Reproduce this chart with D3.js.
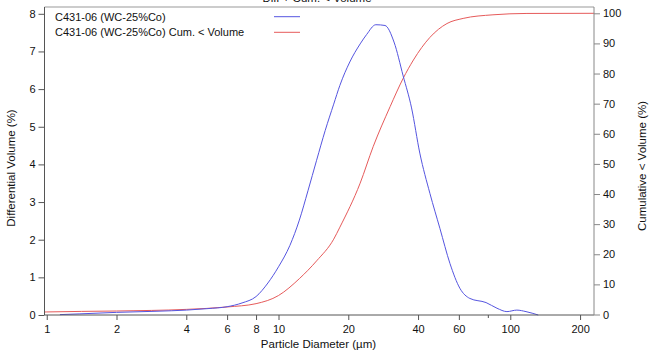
<!DOCTYPE html>
<html><head><meta charset="utf-8">
<script src="https://cdn.jsdelivr.net/npm/d3@7"></script>
<style>
body{margin:0;background:#fff;}
svg{display:block;font-family:"Liberation Sans",Arial,sans-serif;}
</style></head>
<body><svg id="c" width="649" height="358"></svg>
<script>
// Differential volume (%) vs particle diameter (µm)
const diffDiam = [1.14,1.39,2,2.99,4,4.96,6,6.96,8,9.0,10,11.2,12.3,13.4,14.6,15.9,17.3,18.4,20.3,22.5,24.0,26.3,28.8,31.5,34.5,37.5,40.7,45.0,49.7,54.9,60.6,66.9,78.6,87.6,96.7,106.7,116.9,132];
const diffVals = [0.01,0.03,0.07,0.10,0.13,0.17,0.22,0.32,0.49,0.85,1.28,1.85,2.52,3.3,4.11,4.9,5.6,6.1,6.72,7.2,7.45,7.71,7.69,7.25,6.35,5.5,4.3,3.23,2.3,1.37,0.71,0.44,0.33,0.18,0.09,0.13,0.09,0.0];
// Cumulative < volume (%)
const cumDiam = [0.98,1,2,4,6,8,10,12.3,14.6,17.3,18.4,22.5,25.6,30.3,34.5,38.2,45.0,53.3,62.6,84.2,118,230];
const cumVals = [0.83,0.85,1.16,1.7,2.5,3.6,6.3,11.9,17.8,25.0,29.0,43.6,55.7,69.0,78.4,84.5,92.0,96.6,98.3,99.5,99.95,100];
const xTicks = [1,2,4,6,8,10,20,40,60,100,200];
const xMinor = [80];
const yLeftTicks = [0,1,2,3,4,5,6,7,8];
const yRightTicks = [0,10,20,30,40,50,60,70,80,90,100];
const seriesNames = ["C431-06 (WC-25%Co)","C431-06 (WC-25%Co) Cum. < Volume"];
const colors = ["#5555e0","#e65a5a"];

const svg = d3.select("#c");
const L=44.5, R=594, T=7, B=315;
const x = d3.scaleLog().domain([0.978,229.7]).range([L,R]);
const yL = d3.scaleLinear().domain([0,8]).range([B,B-8*37.65]);
const yR = d3.scaleLinear().domain([0,100]).range([314.5,13.3]);

// frame top
svg.append("line").attr("x1",L).attr("x2",R).attr("y1",T).attr("y2",T).attr("stroke","#999").attr("stroke-width",1);

// lines
const lineD = d3.line().x((d,i)=>x(diffDiam[i])).y(d=>yL(d)).curve(d3.curveMonotoneX);
const lineC = d3.line().x((d,i)=>x(cumDiam[i])).y(d=>yR(d)).curve(d3.curveMonotoneX);
svg.append("path").attr("d",lineC(cumVals)).attr("fill","none").attr("stroke",colors[1]).attr("stroke-width",1);
svg.append("path").attr("d",lineD(diffVals)).attr("fill","none").attr("stroke",colors[0]).attr("stroke-width",1);

// axes
const fs = "11px";
const gx = svg.append("g").attr("transform",`translate(0,${B})`)
  .call(d3.axisBottom(x).tickValues(xTicks).tickFormat(d3.format("d")).tickSize(5).tickSizeOuter(0));
const gxm = svg.append("g").attr("transform",`translate(0,${B})`)
  .call(d3.axisBottom(x).tickValues(xMinor).tickFormat("").tickSize(3).tickSizeOuter(0));
gxm.select(".domain").remove();
const gl = svg.append("g").attr("transform",`translate(${L},0)`)
  .call(d3.axisLeft(yL).tickValues(yLeftTicks).tickSize(6).tickSizeOuter(0));
const gr = svg.append("g").attr("transform",`translate(${R},0)`)
  .call(d3.axisRight(yR).tickValues(yRightTicks).tickSize(6).tickSizeOuter(0));
gx.select(".domain").attr("d",`M${L},0H${R}`);
gl.select(".domain").attr("d",`M0,${T}V${B}`);
gr.select(".domain").attr("d",`M0,${T}V${B}`);
[gx,gxm,gl].forEach(g=>{g.selectAll("path,line").attr("stroke","#555");});
gr.selectAll("path,line").attr("stroke","#888");
[gx,gl,gr].forEach(g=>g.selectAll("text").attr("font-size",fs).attr("fill","#111").attr("font-family",'"Liberation Sans",Arial,sans-serif'));
gx.selectAll("text").attr("dy","0.9em");
gl.selectAll("text").attr("x",-9);
gr.selectAll("text").attr("x",9);

// axis titles
svg.append("text").attr("x",318.5).attr("y",348).attr("text-anchor","middle").attr("font-size","11.5px").attr("fill","#111").text("Particle Diameter (µm)");
svg.append("text").attr("transform","translate(15,168) rotate(-90)").attr("text-anchor","middle").attr("font-size","11.5px").attr("fill","#111").text("Differential Volume (%)");
svg.append("text").attr("transform","translate(646,166) rotate(-90)").attr("text-anchor","middle").attr("font-size","11.5px").attr("fill","#111").text("Cumulative < Volume (%)");
// title (cut off at top, as in the reference)
svg.append("text").attr("x",317).attr("y",1.5).attr("text-anchor","middle").attr("font-size","11.5px").attr("fill","#111").text("Diff + Cum. < Volume");

// legend
const leg = svg.append("g");
seriesNames.forEach((n,i)=>{
  const yy = 16.7 + i*15.6;
  leg.append("text").attr("x",55).attr("y",yy+4).attr("font-size",fs).attr("fill","#111").text(n);
  leg.append("line").attr("x1",274).attr("x2",300).attr("y1",yy).attr("y2",yy).attr("stroke",colors[i]).attr("stroke-width",1);
});
</script></body></html>
